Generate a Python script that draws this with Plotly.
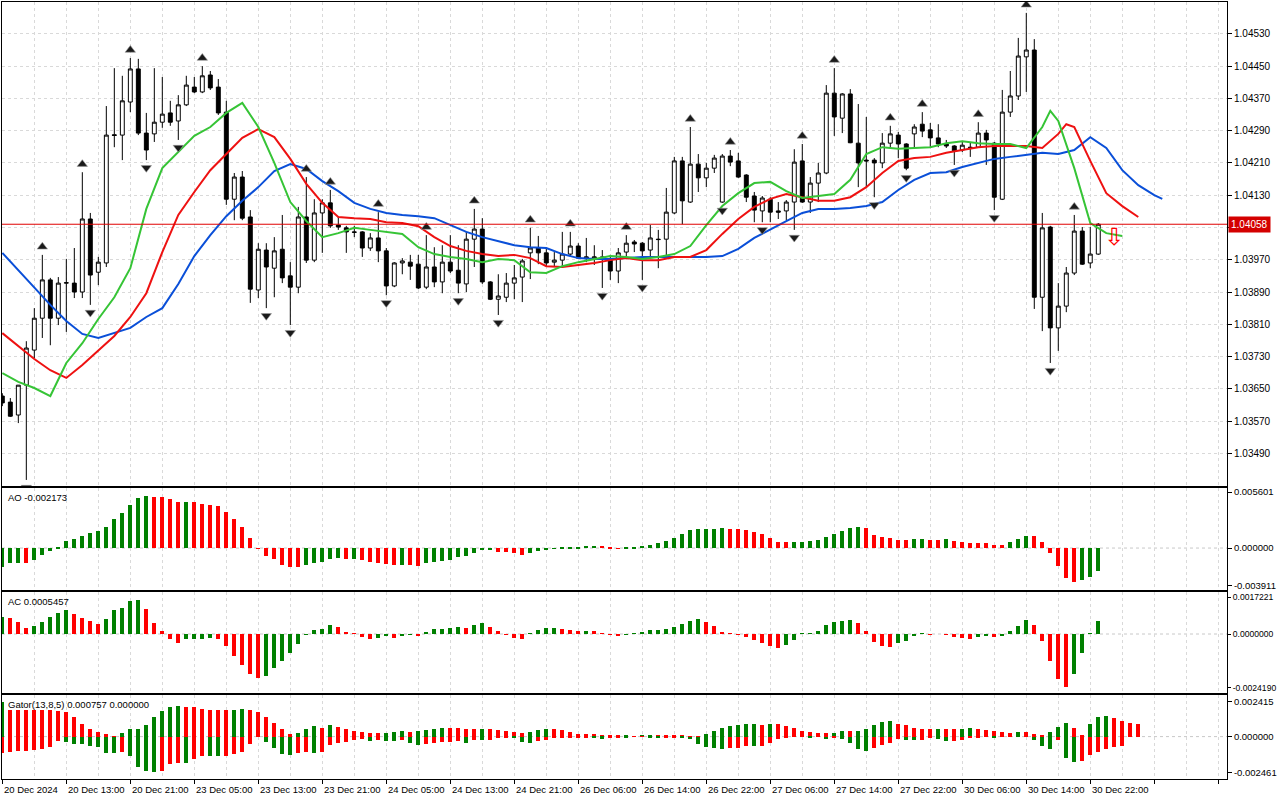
import plotly.graph_objects as go

# EURUSD H1, bar index 0 = 20 Dec 2024 05:00
bars = list(range(138))
open_ = [1.03632, 1.03617, 1.03585, 1.03659, 1.03746, 1.03825, 1.03920, 1.03825, 1.03912, 1.03912,
         1.03890, 1.04071, 1.03939, 1.03962, 1.04280, 1.04279, 1.04361, 1.04443, 1.04284, 1.04282,
         1.04311, 1.04334, 1.04314, 1.04354, 1.04398, 1.04386, 1.04428, 1.04398, 1.04336, 1.04120,
         1.04175, 1.04076, 1.03895, 1.03994, 1.03949, 1.03996, 1.03930, 1.03902, 1.04076, 1.03969,
         1.04086, 1.04111, 1.04056, 1.04049, 1.04039, 1.04039, 1.03999, 1.04024, 1.03992, 1.03905,
         1.03962, 1.03964, 1.03959, 1.03902, 1.03952, 1.03915, 1.03964, 1.03944, 1.03910, 1.04021,
         1.04046, 1.03915, 1.03872, 1.03877, 1.03912, 1.03927, 1.03987, 1.03999, 1.03987, 1.03964,
         1.03969, 1.03984, 1.04004, 1.03974, 1.03974, 1.03977, 1.03969, 1.03942, 1.03989, 1.04014,
         1.04011, 1.03994, 1.04021, 1.04021, 1.04086, 1.04215, 1.04113, 1.04207, 1.04173, 1.04197,
         1.04113, 1.04227, 1.04215, 1.04180, 1.04128, 1.04091, 1.04120, 1.04091, 1.04091, 1.04113,
         1.04215, 1.04113, 1.04160, 1.04185, 1.04383, 1.04321, 1.04381, 1.04259, 1.04217, 1.04217,
         1.04210, 1.04259, 1.04279, 1.04257, 1.04282, 1.04306, 1.04292, 1.04272, 1.04257, 1.04252,
         1.04242, 1.04249, 1.04249, 1.04284, 1.04259, 1.04120, 1.04336, 1.04376, 1.04473, 1.04490,
         1.03877, 1.04051, 1.03801, 1.03855, 1.03937, 1.04041, 1.03962, 1.03984]
high = [1.03639, 1.03627, 1.03659, 1.03768, 1.03850, 1.03982, 1.03925, 1.03927, 1.03972, 1.03999,
        1.04187, 1.04086, 1.03977, 1.04351, 1.04445, 1.04426, 1.04470, 1.04468, 1.04334, 1.04445,
        1.04423, 1.04364, 1.04378, 1.04426, 1.04423, 1.04450, 1.04438, 1.04418, 1.04364, 1.04185,
        1.04190, 1.04093, 1.04011, 1.04011, 1.04026, 1.04081, 1.03964, 1.04101, 1.04175, 1.04120,
        1.04120, 1.04143, 1.04076, 1.04054, 1.04054, 1.04041, 1.04036, 1.04088, 1.03999, 1.03964,
        1.03974, 1.03982, 1.03982, 1.04031, 1.04001, 1.04006, 1.04031, 1.04006, 1.04039, 1.04096,
        1.04073, 1.03917, 1.03934, 1.03937, 1.03957, 1.03972, 1.04049, 1.04029, 1.03999, 1.03989,
        1.04039, 1.04039, 1.04011, 1.04024, 1.04006, 1.03994, 1.03982, 1.03999, 1.04031, 1.04019,
        1.04014, 1.04056, 1.04044, 1.04148, 1.04225, 1.04225, 1.04299, 1.04232, 1.04210, 1.04230,
        1.04232, 1.04242, 1.04235, 1.04182, 1.04138, 1.04128, 1.04125, 1.04113, 1.04118, 1.04244,
        1.04257, 1.04175, 1.04210, 1.04403, 1.04445, 1.04383, 1.04393, 1.04356, 1.04324, 1.04222,
        1.04284, 1.04302, 1.04287, 1.04259, 1.04306, 1.04336, 1.04309, 1.04306, 1.04267, 1.04254,
        1.04262, 1.04262, 1.04311, 1.04292, 1.04262, 1.04391, 1.04438, 1.04520, 1.04582, 1.04517,
        1.04086, 1.04054, 1.03912, 1.03952, 1.04081, 1.04051, 1.04051, 1.04061]
low = [1.03607, 1.03580, 1.03565, 1.03424, 1.03726, 1.03776, 1.03758, 1.03808, 1.03791, 1.03875,
       1.03875, 1.03858, 1.03907, 1.03952, 1.04249, 1.04217, 1.04336, 1.04279, 1.04217, 1.04262,
       1.04297, 1.04302, 1.04267, 1.04351, 1.04383, 1.04383, 1.04391, 1.04329, 1.04106, 1.04068,
       1.04068, 1.03863, 1.03875, 1.03850, 1.03877, 1.03912, 1.03808, 1.03887, 1.03962, 1.03964,
       1.03987, 1.04049, 1.04044, 1.03987, 1.04026, 1.03977, 1.03992, 1.03964, 1.03882, 1.03902,
       1.03934, 1.03920, 1.03897, 1.03897, 1.03902, 1.03887, 1.03937, 1.03887, 1.03890, 1.03952,
       1.03910, 1.03870, 1.03833, 1.03865, 1.03872, 1.03865, 1.03922, 1.03959, 1.03952, 1.03952,
       1.03952, 1.03977, 1.03972, 1.03964, 1.03957, 1.03900, 1.03920, 1.03912, 1.03977, 1.03989,
       1.03920, 1.03977, 1.03949, 1.03977, 1.04083, 1.04058, 1.04111, 1.04138, 1.04150, 1.04185,
       1.04111, 1.04202, 1.04173, 1.04113, 1.04063, 1.04063, 1.04063, 1.04071, 1.04068, 1.04044,
       1.04111, 1.04086, 1.04113, 1.04182, 1.04277, 1.04284, 1.04259, 1.04150, 1.04150, 1.04125,
       1.04197, 1.04247, 1.04222, 1.04192, 1.04249, 1.04274, 1.04249, 1.04249, 1.04247, 1.04205,
       1.04237, 1.04225, 1.04247, 1.04205, 1.04093, 1.04118, 1.04324, 1.04366, 1.04386, 1.03848,
       1.03793, 1.03714, 1.03744, 1.03840, 1.03932, 1.03957, 1.03949, 1.03982]
close = [1.03615, 1.03582, 1.03659, 1.03751, 1.03825, 1.03920, 1.03825, 1.03912, 1.03913, 1.03890,
         1.04071, 1.03932, 1.03964, 1.04279, 1.04278, 1.04364, 1.04443, 1.04284, 1.04242, 1.04311,
         1.04331, 1.04311, 1.04354, 1.04403, 1.04386, 1.04426, 1.04396, 1.04334, 1.04120, 1.04175,
         1.04073, 1.03897, 1.03996, 1.03952, 1.03992, 1.03925, 1.03902, 1.04076, 1.03969, 1.04086,
         1.04111, 1.04054, 1.04051, 1.04039, 1.04038, 1.03999, 1.04024, 1.03992, 1.03905, 1.03962,
         1.03967, 1.03954, 1.03900, 1.03952, 1.03915, 1.03964, 1.03942, 1.03912, 1.04021, 1.04046,
         1.03915, 1.03872, 1.03880, 1.03912, 1.03925, 1.03967, 1.03999, 1.03987, 1.03962, 1.03969,
         1.03984, 1.04004, 1.03974, 1.03977, 1.03977, 1.03974, 1.03942, 1.03987, 1.04011, 1.04009,
         1.03992, 1.04024, 1.04020, 1.04088, 1.04215, 1.04116, 1.04207, 1.04173, 1.04197, 1.04222,
         1.04227, 1.04212, 1.04175, 1.04125, 1.04093, 1.04123, 1.04088, 1.04088, 1.04113, 1.04212,
         1.04113, 1.04160, 1.04185, 1.04383, 1.04324, 1.04381, 1.04260, 1.04210, 1.04215, 1.04210,
         1.04259, 1.04282, 1.04257, 1.04197, 1.04299, 1.04289, 1.04272, 1.04257, 1.04252, 1.04240,
         1.04254, 1.04248, 1.04284, 1.04267, 1.04125, 1.04336, 1.04376, 1.04475, 1.04490, 1.03877,
         1.04049, 1.03801, 1.03855, 1.03937, 1.04041, 1.03959, 1.03984, 1.04058]

fractal_up_bars = [5, 10, 16, 25, 38, 41, 47, 53, 59, 66, 71, 78, 86, 91, 100, 104, 111, 115, 122, 128, 134]
fractal_down_bars = [3, 11, 18, 22, 33, 36, 48, 57, 62, 75, 80, 90, 95, 99, 109, 113, 119, 124, 131]

# Alligator (already shifted forward: jaw 8, teeth 5, lips 3)
jaw_bars = list(range(0, 146, 2)) + [145]
jaw = [1.03987, 1.03944, 1.03900, 1.03858, 1.03818, 1.03786, 1.03776, 1.03788, 1.03801, 1.03828,
       1.03850, 1.03910, 1.03979, 1.04031, 1.04078, 1.04116, 1.04150, 1.04190, 1.04207, 1.04195,
       1.04165, 1.04140, 1.04111, 1.04096, 1.04086, 1.04081, 1.04078, 1.04073, 1.04056, 1.04039,
       1.04026, 1.04016, 1.04006, 1.04001, 1.03999, 1.03984, 1.03974, 1.03972, 1.03972, 1.03974,
       1.03977, 1.03977, 1.03977, 1.03977, 1.03977, 1.03979, 1.03997, 1.04024, 1.04046, 1.04066,
       1.04086, 1.04096, 1.04096, 1.04098, 1.04103, 1.04113, 1.04143, 1.04168, 1.04185, 1.04187,
       1.04200, 1.04210, 1.04220, 1.04225, 1.04230, 1.04235, 1.04232, 1.04242, 1.04274, 1.04247,
       1.04192, 1.04155, 1.04130, 1.04121]
teeth_bars = sorted(list(range(0, 134, 2)) + [133, 134, 136, 138, 140, 142])
teeth = [1.03788, 1.03756, 1.03724, 1.03696, 1.03677, 1.03709, 1.03744, 1.03781, 1.03828, 1.03887,
         1.03989, 1.04081, 1.04138, 1.04192, 1.04232, 1.04272, 1.04294, 1.04274, 1.04220, 1.04158,
         1.04111, 1.04076, 1.04073, 1.04071, 1.04063, 1.04061, 1.04053, 1.04026, 1.04004, 1.03992,
         1.03984, 1.03979, 1.03982, 1.03974, 1.03954, 1.03952, 1.03957, 1.03962, 1.03969, 1.03974,
         1.03969, 1.03969, 1.03977, 1.03977, 1.03994, 1.04034, 1.04071, 1.04101, 1.04121, 1.04133,
         1.04125, 1.04116, 1.04116, 1.04125, 1.04150, 1.04185, 1.04215, 1.04222, 1.04225, 1.04235,
         1.04242, 1.04249, 1.04252, 1.04252, 1.04252, 1.04247, 1.04282, 1.04306, 1.04299, 1.04215,
         1.04135, 1.04103, 1.04076]
lips_bars = sorted(list(range(0, 142, 2)) + [131])
lips = [1.03689, 1.03667, 1.03652, 1.03632, 1.03714, 1.03763, 1.03823, 1.03877, 1.03949, 1.04096,
        1.04197, 1.04237, 1.04277, 1.04299, 1.04334, 1.04359, 1.04299, 1.04210, 1.04113, 1.04066,
        1.04026, 1.04036, 1.04049, 1.04044, 1.04039, 1.04034, 1.04001, 1.03984, 1.03977, 1.03972,
        1.03964, 1.03972, 1.03969, 1.03939, 1.03937, 1.03954, 1.03964, 1.03972, 1.03979, 1.03977,
        1.03972, 1.03977, 1.03984, 1.04004, 1.04056, 1.04103, 1.04135, 1.04160, 1.04163, 1.04140,
        1.04123, 1.04128, 1.04133, 1.04168, 1.04232, 1.04249, 1.04245, 1.04247, 1.04249, 1.04259,
        1.04264, 1.04259, 1.04257, 1.04257, 1.04247, 1.04299, 1.04339, 1.04314, 1.04197, 1.04061,
        1.04036, 1.04029]

ao = [-0.00174, -0.00143, -0.00137, -0.00143, -0.00112, -0.00068, -0.00031, 0.00012, 0.00062, 0.00087,
      0.00115, 0.00137, 0.00156, 0.00199, 0.00274, 0.00323, 0.00404, 0.00470, 0.00488, 0.00479,
      0.00478, 0.00454, 0.00432, 0.00433, 0.00426, 0.00407, 0.00406, 0.00395, 0.00339, 0.00274,
      0.00199, 0.00096, -0.00005, -0.00072, -0.00106, -0.00156, -0.00174, -0.00177, -0.00156, -0.00143,
      -0.00134, -0.00106, -0.00096, -0.00106, -0.00103, -0.00112, -0.00131, -0.00135, -0.00146, -0.00156,
      -0.00155, -0.00157, -0.00165, -0.00143, -0.00128, -0.00118, -0.00109, -0.00087, -0.00078, -0.00050,
      -0.00022, -0.00019, -0.00034, -0.00035, -0.00050, -0.00062, -0.00050, -0.00031, -0.00012, -0.00004,
      0.00001, 0.00003, 0.00012, 0.00022, 0.00023, 0.00021, 0.00012, -0.00001, 0.00009, 0.00012,
      0.00019, 0.00031, 0.00044, 0.00068, 0.00096, 0.00134, 0.00165, 0.00180, 0.00181, 0.00182,
      0.00183, 0.00182, 0.00181, 0.00166, 0.00148, 0.00129, 0.00090, 0.00058, 0.00052, 0.00055,
      0.00061, 0.00062, 0.00071, 0.00100, 0.00132, 0.00158, 0.00187, 0.00196, 0.00187, 0.00119,
      0.00106, 0.00090, 0.00077, 0.00071, 0.00080, 0.00081, 0.00077, 0.00074, 0.00080, 0.00064,
      0.00055, 0.00045, 0.00044, 0.00043, 0.00032, 0.00031, 0.00055, 0.00084, 0.00109, 0.00108,
      0.00055, -0.00042, -0.00171, -0.00283, -0.00316, -0.00296, -0.00270, -0.002173]

ac = [0.00068, 0.00067, 0.00051, 0.00025, 0.00031, 0.00051, 0.00068, 0.00085, 0.00097, 0.00080,
      0.00067, 0.00055, 0.00042, 0.00063, 0.00097, 0.00106, 0.00135, 0.00140, 0.00102, 0.00047,
      0.00013, -0.00021, -0.00038, -0.00021, -0.00020, -0.00019, -0.00017, -0.00021, -0.00051, -0.00089,
      -0.00127, -0.00165, -0.00182, -0.00173, -0.00140, -0.00110, -0.00076, -0.00042, -0.00001, 0.00017,
      0.00021, 0.00038, 0.00030, 0.00008, 0.00004, -0.00013, -0.00021, -0.00015, -0.00010, -0.00017,
      -0.00007, -0.00003, -0.00007, 0.00007, 0.00020, 0.00021, 0.00025, 0.00030, 0.00025, 0.00038,
      0.00047, 0.00030, 0.00013, -0.00001, -0.00017, -0.00021, 0.00001, 0.00017, 0.00025, 0.00026,
      0.00021, 0.00017, 0.00013, 0.00014, 0.00012, 0.00004, -0.00001, -0.00007, -0.00003, 0.00001,
      0.00008, 0.00017, 0.00018, 0.00019, 0.00030, 0.00042, 0.00055, 0.00063, 0.00051, 0.00034,
      0.00008, 0.00004, -0.00001, -0.00012, -0.00026, -0.00038, -0.00051, -0.00057, -0.00047, -0.00026,
      0.00001, 0.00004, 0.00013, 0.00035, 0.00048, 0.00053, 0.00057, 0.00044, 0.00013, -0.00034,
      -0.00051, -0.00052, -0.00038, -0.00029, -0.00007, 0.00001, -0.00001, 0.00000, -0.00002, -0.00012,
      -0.00016, -0.00020, -0.00012, -0.00009, -0.00012, -0.00007, 0.00013, 0.00031, 0.00057, 0.00035,
      -0.00029, -0.00110, -0.00183, -0.00218, -0.00165, -0.00077, 0.00001, 0.0005457]

gator_up = [0.00203, 0.00157, 0.00156, 0.00155, 0.00154, 0.00153, 0.00152, 0.00147, 0.00143, 0.00116,
            0.00074, 0.00046, 0.00029, 0.00017, 0.00001, 0.00023, 0.00043, 0.00046, 0.00070, 0.00116,
            0.00151, 0.00174, 0.00180, 0.00174, 0.00173, 0.00163, 0.00157, 0.00156, 0.00155, 0.00156,
            0.00163, 0.00152, 0.00145, 0.00116, 0.00081, 0.00046, 0.00014, 0.00021, 0.00046, 0.00060,
            0.00052, 0.00066, 0.00058, 0.00046, 0.00035, 0.00029, 0.00023, 0.00022, 0.00023, 0.00029,
            0.00030, 0.00029, 0.00035, 0.00041, 0.00046, 0.00052, 0.00051, 0.00050, 0.00046, 0.00045,
            0.00046, 0.00045, 0.00041, 0.00035, 0.00029, 0.00023, 0.00029, 0.00041, 0.00046, 0.00045,
            0.00041, 0.00029, 0.00017, 0.00016, 0.00015, 0.00012, 0.00006, 0.00005, 0.00006, 0.00003,
            0.00006, 0.00012, 0.00011, 0.00006, 0.00005, 0.00004, 0.00003, 0.00002, 0.00017, 0.00035,
            0.00052, 0.00064, 0.00070, 0.00075, 0.00076, 0.00070, 0.00075, 0.00074, 0.00064, 0.00052,
            0.00035, 0.00029, 0.00023, 0.00022, 0.00023, 0.00035, 0.00034, 0.00035, 0.00046, 0.00070,
            0.00087, 0.00088, 0.00075, 0.00070, 0.00052, 0.00046, 0.00045, 0.00046, 0.00045, 0.00044,
            0.00046, 0.00052, 0.00046, 0.00041, 0.00035, 0.00029, 0.00023, 0.00029, 0.00028, 0.00017,
            0.00012, 0.00029, 0.00058, 0.00081, 0.00052, 0.00012, 0.00076, 0.00116, 0.00122, 0.00110,
            0.00093, 0.00081, 0.000757]
gator_down = [0.00097, 0.00087, 0.00086, 0.00081, 0.00075, 0.00070, 0.00062, 0.00023, 0.00029, 0.00041,
              0.00045, 0.00052, 0.00062, 0.00093, 0.00094, 0.00087, 0.00110, 0.00174, 0.00198, 0.00203,
              0.00198, 0.00161, 0.00151, 0.00152, 0.00132, 0.00112, 0.00113, 0.00114, 0.00112, 0.00103,
              0.00089, 0.00045, 0.00002, 0.00029, 0.00064, 0.00101, 0.00107, 0.00097, 0.00087, 0.00097,
              0.00087, 0.00048, 0.00035, 0.00034, 0.00017, 0.00016, 0.00023, 0.00017, 0.00023, 0.00024,
              0.00017, 0.00035, 0.00046, 0.00041, 0.00035, 0.00034, 0.00029, 0.00028, 0.00035, 0.00020,
              0.00021, 0.00017, 0.00006, 0.00005, 0.00006, 0.00029, 0.00035, 0.00023, 0.00017, 0.00008,
              0.00007, 0.00005, 0.00004, 0.00003, 0.00010, 0.00011, 0.00009, 0.00006, 0.00007, 0.00002,
              0.00001, 0.00006, 0.00007, 0.00004, 0.00003, 0.00006, 0.00016, 0.00045, 0.00058, 0.00068,
              0.00074, 0.00068, 0.00067, 0.00056, 0.00057, 0.00056, 0.00039, 0.00016, 0.00004, 0.00002,
              0.00001, 0.00003, 0.00002, 0.00016, 0.00010, 0.00011, 0.00039, 0.00074, 0.00081, 0.00068,
              0.00050, 0.00039, 0.00016, 0.00017, 0.00021, 0.00020, 0.00010, 0.00015, 0.00027, 0.00026,
              0.00020, 0.00010, 0.00004, 0.00002, 0.00003, 0.00002, 0.00001, 0.00002, 0.00001, 0.00021,
              0.00056, 0.00074, 0.00021, 0.00126, 0.00149, 0.00143, 0.00108, 0.00087, 0.00074, 0.00062,
              0.00055]

sell_bar = [139]
sell_price = [1.04021]
last_price = 1.04058

price_ticks = [1.03490, 1.03570, 1.03650, 1.03730, 1.03810, 1.03890, 1.03970, 1.04050,
               1.04130, 1.04210, 1.04290, 1.04370, 1.04450, 1.04530]
time_tick_bars = list(range(0, 137, 8))
time_labels = ['20 Dec 2024', '20 Dec 13:00', '20 Dec 21:00', '23 Dec 05:00', '23 Dec 13:00',
               '23 Dec 21:00', '24 Dec 05:00', '24 Dec 13:00', '24 Dec 21:00', '26 Dec 06:00',
               '26 Dec 14:00', '26 Dec 22:00', '27 Dec 06:00', '27 Dec 14:00', '27 Dec 22:00',
               '30 Dec 06:00', '30 Dec 14:00', '30 Dec 22:00']

ao_range = [-0.003911, 0.005601]
ac_range = [-0.0024190, 0.0017221]
gator_range = [-0.002461, 0.002415]

GREEN = '#008000'
RED = '#ff0000'
FONT = 'Liberation Sans'
GRID = '#d9d9d9'


def trend_colors(values, first=GREEN):
	cols = [first]
	for i in range(1, len(values)):
		cols.append(GREEN if values[i] > values[i-1] else RED)
	return cols


fig = go.Figure()

fig.add_trace(go.Candlestick(
	x=bars, open=open_, high=high, low=low, close=close,
	increasing=dict(fillcolor='white', line=dict(color='black', width=1)),
	decreasing=dict(fillcolor='black', line=dict(color='black', width=1)),
	whiskerwidth=0, xaxis='x', yaxis='y', showlegend=False,
))
for xs, ys, col in [(jaw_bars, jaw, '#0a4fd8'), (teeth_bars, teeth, '#ee1111'), (lips_bars, lips, '#36c436')]:
	fig.add_trace(go.Scatter(x=xs, y=ys, mode='lines', line=dict(color=col, width=2),
		xaxis='x', yaxis='y', showlegend=False))

# Bill Williams fractals, drawn a few pixels above the high / below the low
fig.add_trace(go.Scatter(
	x=fractal_up_bars, y=[high[b] + 0.0002 for b in fractal_up_bars], mode='markers',
	marker=dict(symbol='triangle-up', size=9, color='#1a1a1a', line=dict(color='#9a9a9a', width=0.6)),
	xaxis='x', yaxis='y', showlegend=False))
fig.add_trace(go.Scatter(
	x=fractal_down_bars, y=[low[b] - 0.00019 for b in fractal_down_bars], mode='markers',
	marker=dict(symbol='triangle-down', size=9, color='#1a1a1a', line=dict(color='#9a9a9a', width=0.6)),
	xaxis='x', yaxis='y', showlegend=False))
fig.add_trace(go.Scatter(
	x=sell_bar, y=sell_price, mode='text', text=['\u21e9'],
	textfont=dict(family='DejaVu Sans', size=24, color=RED),
	xaxis='x', yaxis='y', showlegend=False))

fig.add_trace(go.Bar(x=bars, y=ao, marker=dict(color=trend_colors(ao), line=dict(width=0)),
	width=0.5, xaxis='x2', yaxis='y2', showlegend=False))
fig.add_trace(go.Bar(x=bars, y=ac, marker=dict(color=trend_colors(ac), line=dict(width=0)),
	width=0.5, xaxis='x3', yaxis='y3', showlegend=False))
fig.add_trace(go.Bar(x=list(range(len(gator_up))), y=gator_up,
	marker=dict(color=trend_colors(gator_up), line=dict(width=0)),
	width=0.5, xaxis='x4', yaxis='y4', showlegend=False))
fig.add_trace(go.Bar(x=list(range(len(gator_down))), y=[-v for v in gator_down],
	marker=dict(color=trend_colors(gator_down, RED), line=dict(width=0)),
	width=0.5, xaxis='x4', yaxis='y4', showlegend=False))

# panel layout (paper fractions of the 777 px plot area)
H = 777.0
def dom(top_px, bottom_px):
	return [(779 - bottom_px) / H, (779 - top_px) / H]

xrange_ = [-0.04, 153.09]
xcommon = dict(
	range=xrange_, showline=True, mirror=True, linecolor='black', linewidth=1,
	showticklabels=False, tickmode='linear', tick0=0, dtick=8,
	showgrid=True, gridcolor=GRID, griddash='3px,3px', gridwidth=1, zeroline=False,
	minor=dict(tick0=0, dtick=4, showgrid=True, gridcolor=GRID, griddash='3px,3px'),
	rangeslider=dict(visible=False),
)
ycommon = dict(
	side='right', showline=True, mirror=True, linecolor='black', linewidth=1,
	ticks='outside', ticklen=4, tickcolor='black',
	tickfont=dict(family=FONT, size=9.5, color='black'), zeroline=False, automargin=False,
)

def inset(rng, frac):
	span = rng[1] - rng[0]
	return [rng[1] - span * frac, 0.0, rng[0] + span * frac]

ao_dom = dom(488, 590)
ac_dom = dom(592, 693)
gator_dom = dom(695, 779)

fig.update_layout(
	width=1280, height=800,
	margin=dict(l=2, r=53, t=2, b=21),
	paper_bgcolor='white', plot_bgcolor='white',
	barmode='overlay', bargap=0,
	font=dict(family=FONT, size=9.5, color='black'),
	xaxis=dict(xcommon, anchor='y'),
	xaxis2=dict(xcommon, anchor='y2', matches='x'),
	xaxis3=dict(xcommon, anchor='y3', matches='x'),
	xaxis4=dict(xcommon, anchor='y4', matches='x', ticks='outside', ticklen=4, tickcolor='black'),
	yaxis=dict(ycommon, domain=dom(2, 486), range=[1.03409, 1.04609],
		tickvals=price_ticks,
		ticktext=['' if abs(p - last_price) < 0.0002 else '%.5f' % p for p in price_ticks],
		tickfont=dict(family=FONT, size=10, color='black'),
		showgrid=True, gridcolor=GRID, griddash='3px,3px'),
	yaxis2=dict(ycommon, domain=ao_dom, range=ao_range, showgrid=False,
		tickvals=inset(ao_range, 0.04), ticktext=['0.005601', '0.000000', '-0.003911']),
	yaxis3=dict(ycommon, domain=ac_dom, range=ac_range, showgrid=False, ticklen=3,
		tickfont=dict(family=FONT, size=8.6, color='black'),
		tickvals=inset(ac_range, 0.05), ticktext=['0.0017221', '0.0000000', '-0.0024190']),
	yaxis4=dict(ycommon, domain=gator_dom, range=gator_range, showgrid=False,
		tickvals=inset(gator_range, 0.08), ticktext=['0.002415', '0.000000', '-0.002461']),
)

shapes = [
	dict(type='line', xref='x domain', x0=0, x1=1, yref='y', y0=last_price, y1=last_price,
		line=dict(color='#e00000', width=1)),
]
for ax in ['y2', 'y3', 'y4']:
	shapes.append(dict(type='line', xref='x domain', x0=0, x1=1, yref=ax, y0=0, y1=0,
		line=dict(color='#c8c8c8', width=1, dash='3px,3px'), layer='below'))
fig.update_layout(shapes=shapes)

annotations = [
	dict(x=1, xref='paper', xanchor='left', xshift=1, y=last_price, yref='y', yanchor='middle',
		text='%.5f' % last_price, showarrow=False, bgcolor='#d40000', borderpad=2,
		font=dict(family=FONT, size=10, color='white')),
	dict(x=0, xref='paper', xanchor='left', xshift=4, y=ao_dom[1], yref='paper', yanchor='top',
		yshift=-2, text='AO %.6f' % ao[-1], showarrow=False),
	dict(x=0, xref='paper', xanchor='left', xshift=4, y=ac_dom[1], yref='paper', yanchor='top',
		yshift=-2, text='AC %.7f' % ac[-1], showarrow=False),
	dict(x=0, xref='paper', xanchor='left', xshift=4, y=gator_dom[1], yref='paper', yanchor='top',
		yshift=-2, text='Gator(13,8,5) %.6f %.6f' % (gator_up[-1], 0.0), showarrow=False),
]
for b, lab in zip(time_tick_bars, time_labels):
	annotations.append(dict(x=b, xref='x4', xanchor='left', xshift=0, y=0, yref='paper',
		yanchor='top', yshift=-3, text=lab, showarrow=False))
fig.update_layout(annotations=annotations)

fig.write_html('out.html', config={'displayModeBar': False},
	post_script="document.body.style.margin='0px';")
